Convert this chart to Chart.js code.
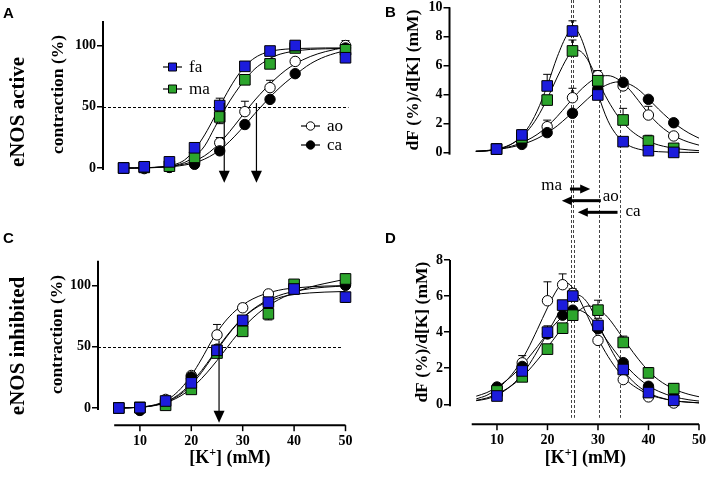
<!DOCTYPE html>
<html>
<head>
<meta charset="utf-8">
<title>K+ contraction and derivative curves</title>
<script src="https://cdn.jsdelivr.net/npm/chart.js@4.4.1/dist/chart.umd.min.js"></script>
<style>
  body { margin: 0; background: #fff; }
  #fig { position: relative; width: 708px; height: 479px; overflow: hidden; }
  #fig canvas { position: absolute; }
  .panel { position: absolute; font: bold 15px "Liberation Sans", Arial, sans-serif; }
  .row { position: absolute; font: bold 21px "Liberation Serif", "Times New Roman", serif; white-space: nowrap; transform: translate(-50%, -50%) rotate(-90deg); }
</style>
</head>
<body>
<div id="fig">
  <canvas id="chartA" width="354" height="240" style="left:0;top:0"></canvas>
  <canvas id="chartB" width="354" height="250" style="left:354px;top:-10px"></canvas>
  <canvas id="chartC" width="354" height="239" style="left:0;top:240px"></canvas>
  <canvas id="chartD" width="354" height="239" style="left:354px;top:240px"></canvas>
  <div class="panel" style="left:3px;top:4px">A</div>
  <div class="panel" style="left:385px;top:3px">B</div>
  <div class="panel" style="left:3px;top:229px">C</div>
  <div class="panel" style="left:385px;top:229px">D</div>
  <div class="row" style="left:17px;top:112px">eNOS active</div>
  <div class="row" style="left:17px;top:346px">eNOS inhibited</div>
</div>
<script>
Chart.defaults.font.family = '"Liberation Serif", "Times New Roman", serif';
Chart.defaults.color = '#000';

// K+ concentrations (mM)
const concK = [5.9, 10, 15, 20, 25, 30, 35, 40, 50];
const concB = [10, 15, 20, 25, 30, 35, 40, 45];
const concD = [10, 15, 20, 23, 25, 30, 35, 40, 45];
const xTicks = [10, 20, 30, 40, 50];
const yTicksPct = [0, 50, 100];
const yTicksB = [0, 2, 4, 6, 8, 10];
const yTicksD = [0, 2, 4, 6, 8];

// A - eNOS active, contraction (%) ; errors: + up, - down
const faA = [0, 1, 5, 16.5, 51, 83, 95.5, 100, 90];
const maA = [0, 0.5, 1.5, 8.7, 41.7, 72, 85, 98, 96.5];
const aoA = [0, -0.5, 0.5, 4, 20.6, 46, 65.6, 87, 100];
const caA = [0, 0, 0.5, 3, 14, 35.5, 56, 77, 98];
const faErrA = [0, 0, 0, 3.5, 6, 0, 0, 0, 0];
const maErrA = [0, 0, 0, 0, -5.5, 0, 0, 0, 0];
const aoErrA = [0, 0, 0, 0, 4.3, 8.5, 6, 0, 4];
const caErrA = [0, 0, 0, 0, 0, 0, 0, 0, 0];

// A fitted curves
const fitXA = [5.9, 8, 10, 12, 14, 16, 18, 20, 22, 24, 26, 28, 30, 32, 34, 36, 38, 40, 43, 46, 50];
const faFitA = [0, 0, 0.2, 0.5, 1.2, 2.8, 6.5, 15, 27, 42, 58, 72, 83, 90, 94, 96, 97, 97.5, 97.8, 98, 98];
const maFitA = [0, 0, 0.2, 0.4, 0.9, 2, 4.5, 9.5, 18, 33, 48, 61, 72, 81, 87, 91.5, 94, 95.5, 96.8, 97.3, 97.7];
const aoFitA = [0, 0, 0.2, 0.5, 1, 1.8, 3.3, 5.8, 10, 16.5, 25, 35, 45.5, 55.5, 64.5, 72.5, 79.5, 85, 91, 95, 98.5];
const caFitA = [0, 0, 0.1, 0.3, 0.7, 1.3, 2.4, 4.2, 7.3, 11.8, 18, 26, 35, 44.5, 53.5, 62, 69.5, 76, 85, 91, 96];
const ec50ArrowsA = [25.9, 32.3];

// B - eNOS active, dF/d[K]
const faB = [0.25, 1.22, 4.59, 8.37, 3.97, 0.76, 0.14, 0.02];
const maB = [0.25, 1.03, 3.62, 7.0, 4.95, 2.25, 0.8, 0.3];
const aoB = [0.25, 0.8, 1.79, 3.78, 5.3, 4.59, 2.59, 1.15];
const caB = [0.25, 0.57, 1.38, 2.71, 4.38, 4.84, 3.67, 2.06];
const faErrB = [0, 0.35, 0.8, 0.7, 0, 0, 0, 0];
const maErrB = [0, 0, 0.3, 0.75, 0.2, 0.8, 0.4, 0];
const aoErrB = [0, 0, 0.45, 0.65, 0.35, 0, 0.6, 0.2];
const caErrB = [0, 0, 0, 0, 0, 0, 0, 0];

const fitXB = [5.9, 8, 10, 12, 14, 16, 18, 20, 22, 24, 25, 26, 28, 30, 32, 34, 36, 38, 40, 42, 44, 46, 48, 50];
const faFitB = [0.1, 0.12, 0.22, 0.42, 0.85, 1.6, 2.85, 4.6, 6.6, 8.15, 8.5, 8.35, 6.6, 4.1, 2.2, 1.1, 0.52, 0.25, 0.13, 0.07, 0.04, 0.03, 0.02, 0.02];
const maFitB = [0.1, 0.13, 0.24, 0.45, 0.82, 1.45, 2.4, 3.7, 5.2, 6.55, 7.0, 7.05, 6.4, 4.95, 3.6, 2.5, 1.7, 1.15, 0.78, 0.53, 0.37, 0.26, 0.19, 0.14];
const aoFitB = [0.08, 0.13, 0.22, 0.36, 0.56, 0.85, 1.25, 1.8, 2.5, 3.3, 3.7, 4.1, 4.75, 5.2, 5.3, 5.05, 4.45, 3.6, 2.7, 1.95, 1.4, 1.0, 0.72, 0.52];
const caFitB = [0.1, 0.15, 0.22, 0.32, 0.47, 0.68, 0.97, 1.36, 1.85, 2.45, 2.75, 3.05, 3.7, 4.3, 4.7, 4.87, 4.75, 4.35, 3.7, 3.0, 2.35, 1.8, 1.35, 1.0];

// EC50 lines shared by B and D, and the shift arrows under B
const ec50Lines = [24.7, 25.2, 30.2, 34.3];
const shiftArrows = [
  { label: 'ma', from: 24.5, to: 28.5, y: -2.5, align: 'right', dx: -8, dy: -4 },
  { label: 'ao', from: 30.6, to: 22.9, y: -3.3, align: 'left', dx: 2, dy: -4 },
  { label: 'ca', from: 33.9, to: 26.05, y: -4.1, align: 'left', dx: 8, dy: -1 }
];

// C - eNOS inhibited, contraction (%)
const faC = [0, 0.3, 5.7, 20.5, 47, 71.5, 86.3, 97, 90.4];
const maC = [0, 0.5, 2.2, 15.2, 44.8, 62.5, 76.8, 100.8, 105.2];
const aoC = [0, 0, 7, 26.5, 59.6, 81.7, 93, 100, 101];
const caC = [0, -2, 5.7, 25.4, 48, 69, 85, 97.5, 100];
const faErrC = [0, 0, 0, 0, 0, 0, 0, 0, -4.4];
const maErrC = [0, 0, 0, 0, 0, 0, -5, 0, 4];
const aoErrC = [0, 0, 0, 0, 8.5, 3, 0, 0, 0];
const caErrC = [0, 0, 0, 2.5, 0, 0, 0, 0, 0];

const fitXC = [5.9, 8, 10, 12, 14, 16, 18, 20, 22, 24, 26, 28, 30, 32, 34, 36, 38, 40, 43, 46, 50];
const aoFitC = [0, 0.2, 0.7, 1.8, 4, 8.5, 16, 26.5, 40, 55, 67.5, 77, 84, 89, 92.5, 95, 96.8, 97.8, 98.8, 99.4, 99.8];
const faFitC = [0, 0.2, 0.6, 1.5, 3.3, 6.5, 11.5, 19, 29, 41, 53, 64, 73, 80, 85, 88.5, 91, 92.5, 93.8, 94.5, 95];
const caFitC = [0, 0.2, 0.6, 1.6, 3.5, 7, 12.5, 20.5, 30.5, 42, 54, 64.5, 73.5, 80.5, 86, 90, 93, 95, 97.2, 98.5, 99.5];
const maFitC = [0, 0.2, 0.6, 1.4, 3, 5.8, 10, 16, 24, 33.5, 44, 55, 65, 73.5, 80.5, 86, 90.5, 94, 98.5, 101.5, 105];
const ec50ArrowsC = [25.4];

// D - eNOS inhibited, dF/d[K]
const faD = [0.46, 1.85, 4.0, 5.5, 6.0, 4.37, 1.93, 0.65, 0.22];
const maD = [0.74, 1.52, 3.06, 4.22, 4.94, 5.22, 3.43, 1.74, 0.87];
const aoD = [0.9, 2.3, 5.74, 6.63, 6.15, 3.54, 1.37, 0.41, 0.07];
const caD = [0.96, 2.1, 3.9, 4.94, 5.22, 4.19, 2.31, 1.0, 0.41];
const faErrD = [0, 0, 0.35, 0.25, 0.4, 0.4, 0, 0, 0];
const maErrD = [0, 0, 0.2, 0.25, 0.1, 0.55, 0.35, 0.3, 0.28];
const aoErrD = [0, 0.4, 1.05, 0.6, 0.2, 0, 0, 0, 0];
const caErrD = [0, 0, 0, 0, 0, 0, 0, 0, 0];

const fitXD = [5.9, 8, 10, 12, 14, 16, 18, 20, 22, 23, 24, 25, 26, 28, 30, 32, 34, 36, 38, 40, 42, 45, 48, 50];
const aoFitD = [0.3, 0.5, 0.85, 1.35, 2.05, 3.0, 4.15, 5.35, 6.4, 6.7, 6.7, 6.45, 6.0, 4.85, 3.65, 2.65, 1.85, 1.25, 0.85, 0.55, 0.37, 0.2, 0.12, 0.08];
const faFitD = [0.2, 0.3, 0.5, 0.85, 1.35, 2.05, 2.95, 3.95, 4.95, 5.4, 5.75, 5.98, 6.05, 5.6, 4.5, 3.35, 2.35, 1.55, 1.0, 0.63, 0.4, 0.2, 0.11, 0.08];
const caFitD = [0.45, 0.65, 0.95, 1.35, 1.85, 2.5, 3.2, 3.95, 4.6, 4.85, 5.05, 5.18, 5.22, 4.95, 4.25, 3.45, 2.7, 2.0, 1.45, 1.02, 0.72, 0.42, 0.25, 0.18];
const maFitD = [0.22, 0.35, 0.57, 0.87, 1.27, 1.8, 2.45, 3.15, 3.9, 4.25, 4.6, 4.9, 5.15, 5.45, 5.3, 4.8, 4.05, 3.25, 2.5, 1.85, 1.35, 0.85, 0.55, 0.42];

const blue = '#1c1cdc';
const green = '#2ca52c';
const serif = '"Liberation Serif", "Times New Roman", serif';
const tickFont = { size: 14, weight: 'bold' };

const pts = (xs, ys) => xs.map((x, i) => ({ x: x, y: ys[i] }));

function markers(label, xs, ys, errs, shape, fill) {
  return {
    label: label, data: pts(xs, ys), errs: errs, showLine: false,
    pointStyle: shape, pointRadius: shape === 'rect' ? 7.5 : 5.2,
    pointBackgroundColor: fill, pointBorderColor: '#000', pointBorderWidth: 1,
    clip: false, order: 1
  };
}

function curve(xs, ys) {
  return {
    type: 'line', data: pts(xs, ys), borderColor: '#000', borderWidth: 1,
    pointRadius: 0, fill: false, cubicInterpolationMode: 'monotone', clip: false, order: 2
  };
}

// 4 groups, blue on top
function groupSets(x, fa, ma, ao, ca, errs, fx, fits) {
  return [
    markers('fa', x, fa, errs[0], 'rect', blue),
    markers('ma', x, ma, errs[1], 'rect', green),
    markers('ca', x, ca, errs[3], 'circle', '#000'),
    markers('ao', x, ao, errs[2], 'circle', '#fff'),
    curve(fx, fits[0]), curve(fx, fits[1]), curve(fx, fits[2]), curve(fx, fits[3])
  ];
}

function drawKTitle(ctx, cx, base) {
  const big = 'bold 18px ' + serif, small = 'bold 12px ' + serif;
  ctx.font = big;
  const w1 = ctx.measureText('[K').width, w3 = ctx.measureText('] (mM)').width;
  ctx.font = small;
  const w2 = ctx.measureText('+').width;
  let x0 = cx - (w1 + w2 + w3) / 2;
  ctx.textAlign = 'left';
  ctx.textBaseline = 'alphabetic';
  ctx.font = big; ctx.fillText('[K', x0, base); x0 += w1;
  ctx.font = small; ctx.fillText('+', x0, base - 7); x0 += w2;
  ctx.font = big; ctx.fillText('] (mM)', x0, base);
}

function framePlugin(o) {
  return {
    id: 'frame',
    beforeDatasetsDraw(chart) {
      const { ctx, chartArea: a, scales: { x, y } } = chart;
      ctx.save();
      ctx.lineWidth = 1;
      ctx.setLineDash([3, 2]);
      if (o.half !== undefined) {
        ctx.strokeStyle = '#000';
        const py = Math.round(y.getPixelForValue(o.half)) + 0.5;
        ctx.beginPath(); ctx.moveTo(a.left, py); ctx.lineTo(a.right + o.halfExtra, py); ctx.stroke();
      }
      if (o.vlines) {
        ctx.strokeStyle = '#444';
        const bottom = o.vBottom === undefined ? chart.height : y.getPixelForValue(o.vBottom);
        o.vlines.forEach(v => {
          const px = Math.round(x.getPixelForValue(v)) + 0.5;
          ctx.beginPath(); ctx.moveTo(px, 0); ctx.lineTo(px, bottom); ctx.stroke();
        });
      }
      ctx.setLineDash([]);
      // one-sided error bars
      ctx.strokeStyle = '#000';
      chart.data.datasets.forEach(ds => {
        if (!ds.errs) return;
        ds.data.forEach((p, i) => {
          const e = ds.errs[i];
          if (!e) return;
          const px = x.getPixelForValue(p.x);
          const py1 = y.getPixelForValue(p.y + e);
          ctx.beginPath();
          ctx.moveTo(px, y.getPixelForValue(p.y)); ctx.lineTo(px, py1);
          ctx.moveTo(px - 4, py1); ctx.lineTo(px + 4, py1);
          ctx.stroke();
        });
      });
      ctx.restore();
    },
    afterDatasetsDraw(chart) {
      const { ctx, chartArea: a, scales: { x, y } } = chart;
      ctx.save();
      ctx.strokeStyle = '#000';
      ctx.fillStyle = '#000';
      // y axis only over the tick range
      ctx.lineWidth = 2;
      ctx.beginPath();
      ctx.moveTo(a.left, y.getPixelForValue(0) + 2);
      ctx.lineTo(a.left, y.getPixelForValue(o.yTop));
      ctx.stroke();
      // x axis, offset below the plot
      if (o.xAt !== undefined) {
        const py = y.getPixelForValue(o.xAt);
        ctx.beginPath(); ctx.moveTo(x.getPixelForValue(5), py); ctx.lineTo(x.getPixelForValue(50), py); ctx.stroke();
        ctx.lineWidth = 1.5;
        xTicks.forEach(v => {
          const px = x.getPixelForValue(v);
          ctx.beginPath(); ctx.moveTo(px, py); ctx.lineTo(px, py + 6); ctx.stroke();
        });
        drawKTitle(ctx, (x.getPixelForValue(5) + x.getPixelForValue(50)) / 2, o.xTitleBase);
      }
      // vertical arrows at EC50
      if (o.downArrows) {
        ctx.lineWidth = 1.2;
        o.downArrows.forEach(v => {
          const px = x.getPixelForValue(v), top = y.getPixelForValue(o.arrowFrom), tip = y.getPixelForValue(o.arrowTo);
          ctx.beginPath(); ctx.moveTo(px, top); ctx.lineTo(px, tip - 11); ctx.stroke();
          ctx.beginPath(); ctx.moveTo(px - 5.5, tip - 12); ctx.lineTo(px + 5.5, tip - 12); ctx.lineTo(px, tip); ctx.closePath(); ctx.fill();
        });
      }
      // horizontal shift arrows
      if (o.shifts) {
        ctx.font = '17px ' + serif;
        ctx.textBaseline = 'middle';
        o.shifts.forEach(s => {
          const x0 = x.getPixelForValue(s.from), x1 = x.getPixelForValue(s.to), py = y.getPixelForValue(s.y);
          const dir = Math.sign(x1 - x0);
          ctx.lineWidth = 3;
          ctx.beginPath(); ctx.moveTo(x0, py); ctx.lineTo(x1 - dir * 9, py); ctx.stroke();
          ctx.beginPath(); ctx.moveTo(x1 - dir * 10, py - 4.5); ctx.lineTo(x1, py); ctx.lineTo(x1 - dir * 10, py + 4.5); ctx.closePath(); ctx.fill();
          ctx.textAlign = s.align;
          ctx.fillText(s.label, x0 + s.dx, py + s.dy);
        });
      }
      // legend
      if (o.legend) {
        ctx.font = '17px ' + serif;
        ctx.textAlign = 'left';
        ctx.textBaseline = 'middle';
        o.legend.forEach(l => {
          ctx.lineWidth = 1.2;
          ctx.beginPath(); ctx.moveTo(l.x, l.y); ctx.lineTo(l.x + 19, l.y); ctx.stroke();
          ctx.fillStyle = l.fill;
          ctx.lineWidth = 1;
          ctx.beginPath();
          if (l.shape === 'rect') ctx.rect(l.x + 5.5, l.y - 4, 8, 8);
          else ctx.arc(l.x + 9.5, l.y, 4.2, 0, Math.PI * 2);
          ctx.fill(); ctx.stroke();
          ctx.fillStyle = '#000';
          ctx.fillText(l.label, l.x + 26, l.y + 1);
        });
      }
      // y title, centred on the axis line
      ctx.font = 'bold 17.5px ' + serif;
      ctx.textAlign = 'center';
      ctx.textBaseline = 'middle';
      ctx.translate(o.titleX, (y.getPixelForValue(0) + y.getPixelForValue(o.yTop)) / 2);
      ctx.rotate(-Math.PI / 2);
      ctx.fillText(o.title, 0, 0);
      ctx.restore();
    }
  };
}

function makeChart(id, o) {
  return new Chart(document.getElementById(id), {
    type: 'scatter',
    data: { datasets: o.datasets },
    options: {
      responsive: false,
      animation: false,
      events: [],
      layout: { padding: o.padding },
      plugins: { legend: { display: false }, tooltip: { enabled: false } },
      scales: {
        x: {
          type: 'linear', min: o.xMin, max: 50, display: o.showX,
          afterBuildTicks: s => { s.ticks = xTicks.map(v => ({ value: v })); },
          afterFit: s => { s.height = o.xHeight; s.paddingLeft = 0; s.paddingRight = 0; },
          grid: { display: false, drawTicks: false }, border: { display: false },
          ticks: { padding: o.xPad, font: tickFont, color: '#000', maxRotation: 0, autoSkip: false }
        },
        y: {
          type: 'linear', min: 0, max: o.yMax,
          afterBuildTicks: s => { s.ticks = o.yTicks.map(v => ({ value: v })); },
          afterFit: s => { s.width = o.yWidth; s.paddingTop = 0; s.paddingBottom = 0; },
          border: { display: false },
          grid: { drawOnChartArea: false, drawTicks: true, tickLength: 6, color: '#000', lineWidth: 1.5 },
          ticks: { padding: 1, font: tickFont, color: '#000' }
        }
      }
    },
    plugins: [framePlugin(o.frame)]
  });
}

makeChart('chartA', {
  datasets: groupSets(concK, faA, maA, aoA, caA, [faErrA, maErrA, aoErrA, caErrA], fitXA, [faFitA, maFitA, aoFitA, caFitA]),
  padding: { left: 0, top: 21, right: 4, bottom: 72 },
  xMin: 1.8, showX: false, xHeight: 0, xPad: 0, yMax: 120, yTicks: yTicksPct, yWidth: 103,
  frame: {
    yTop: 120, title: 'contraction (%)', titleX: 58, half: 50, halfExtra: 3,
    downArrows: ec50ArrowsA, arrowFrom: 53, arrowTo: -12,
    legend: [
      { label: 'fa', shape: 'rect', fill: blue, x: 163, y: 67 },
      { label: 'ma', shape: 'rect', fill: green, x: 163, y: 89 },
      { label: 'ao', shape: 'circle', fill: '#fff', x: 301, y: 126 },
      { label: 'ca', shape: 'circle', fill: '#000', x: 301, y: 145 }
    ]
  }
});

makeChart('chartB', {
  datasets: groupSets(concB, faB, maB, aoB, caB, [faErrB, maErrB, aoErrB, caErrB], fitXB, [faFitB, maFitB, aoFitB, caFitB]),
  padding: { left: 0, top: 17.3, right: 9, bottom: 87.3 },
  xMin: 0.7, showX: false, xHeight: 0, xPad: 0, yMax: 10, yTicks: yTicksB, yWidth: 95.5,
  frame: {
    yTop: 10, title: 'dF (%)/d[K] (mM)', titleX: 59,
    vlines: ec50Lines, shifts: shiftArrows
  }
});

makeChart('chartC', {
  datasets: groupSets(concK, faC, maC, aoC, caC, [faErrC, maErrC, aoErrC, caErrC], fitXC, [faFitC, maFitC, aoFitC, caFitC]),
  padding: { left: 0, top: 20.8, right: 8, bottom: 0 },
  xMin: 1.85, showX: true, xHeight: 71, xPad: 25, yMax: 120, yTicks: yTicksPct, yWidth: 98,
  frame: {
    yTop: 120, title: 'contraction (%)', titleX: 57, half: 50, halfExtra: -3,
    xAt: -14, xTitleBase: 223,
    downArrows: ec50ArrowsC, arrowFrom: 55, arrowTo: -12
  }
});

makeChart('chartD', {
  datasets: groupSets(concD, faD, maD, aoD, caD, [faErrD, maErrD, aoErrD, caErrD], fitXD, [faFitD, maFitD, aoFitD, caFitD]),
  padding: { left: 0, top: 20, right: 9, bottom: 0 },
  xMin: 0.7, showX: true, xHeight: 74.7, xPad: 28, yMax: 8, yTicks: yTicksD, yWidth: 96,
  frame: {
    yTop: 8, title: 'dF (%)/d[K] (mM)', titleX: 68.5,
    xAt: -1.1, xTitleBase: 223,
    vlines: ec50Lines, vBottom: -0.75
  }
});
</script>
</body>
</html>
